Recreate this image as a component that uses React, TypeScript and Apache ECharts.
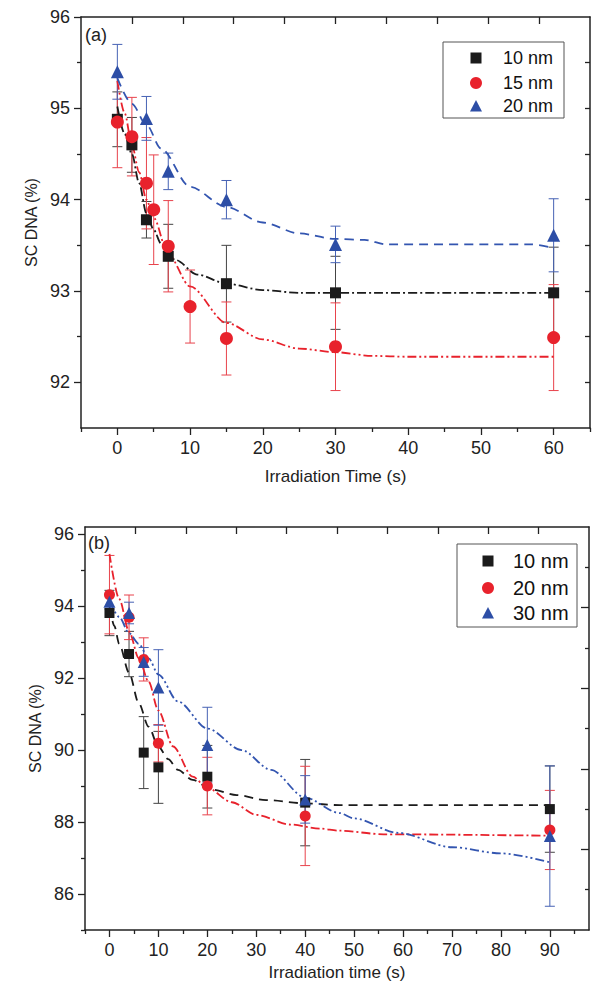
import React, { useEffect, useRef } from "react";
import * as echarts from "echarts";

const FONT = "'Liberation Sans', Arial, sans-serif";

// ---------- Panel (a) ----------
const aTitleX = "Irradiation Time (s)";
const aTitleY = "SC DNA (%)";
const aXLabels = [0, 10, 20, 30, 40, 50, 60];
const aXMinor = [-5, 5, 15, 25, 35, 45, 55, 65];
const aYLabels = [92, 93, 94, 95, 96];
const aYMinor = [92.5, 93.5, 94.5, 95.5];
const aYRight = [92, 92.5, 93, 93.5, 94, 94.5, 95, 95.5];
const aLegend = ["10 nm", "15 nm", "20 nm"];

const a10Time = [0, 2, 4, 7, 15, 30, 60];
const a10Val = [94.88, 94.6, 93.78, 93.38, 93.08, 92.98, 92.98];
const a10Err = [0.3, 0.3, 0.2, 0.35, 0.42, 0.4, 0.5];

const a15Time = [0, 2, 4, 5, 7, 10, 15, 30, 60];
const a15Val = [94.85, 94.69, 94.18, 93.89, 93.49, 92.83, 92.48, 92.39, 92.49];
const a15Err = [0.5, 0.43, 0.5, 0.6, 0.5, 0.4, 0.4, 0.48, 0.58];

const a20Time = [0, 4, 7, 15, 30, 60];
const a20Val = [95.4, 94.89, 94.31, 94.0, 93.51, 93.61];
const a20Err = [0.3, 0.24, 0.2, 0.21, 0.2, 0.4];

const a10FitT = [0, 1, 2, 3, 4, 5, 6, 8, 11, 15, 20, 25, 60];
const a10FitV = [95.02, 94.72, 94.5, 94.18, 93.85, 93.67, 93.52, 93.34, 93.18, 93.08, 93.01, 92.98, 92.98];
const a15FitT = [0, 1, 2, 3, 4, 5, 7, 10, 15, 20, 25, 30, 35, 40, 60];
const a15FitV = [95.3, 94.95, 94.6, 94.3, 94.0, 93.8, 93.4, 93.05, 92.65, 92.47, 92.37, 92.33, 92.29, 92.28, 92.28];
const a20FitT = [0, 2, 4, 6, 10, 15, 20, 25, 30, 34, 37, 57, 60];
const a20FitV = [95.33, 95.05, 94.82, 94.56, 94.14, 93.92, 93.75, 93.63, 93.57, 93.56, 93.51, 93.51, 93.47];

// ---------- Panel (b) ----------
const bTitleX = "Irradiation time (s)";
const bTitleY = "SC DNA (%)";
const bXLabels = [0, 10, 20, 30, 40, 50, 60, 70, 80, 90];
const bXMinor = [-5, 5, 15, 25, 35, 45, 55, 65, 75, 85, 95];
const bYLabels = [86, 88, 90, 92, 94, 96];
const bYMinor = [85, 87, 89, 91, 93, 95];
const bRightMajor = [2, 4, 6, 8];
const bRightMinor = [1, 3, 5, 7, 9];
const bLegend = ["10 nm", "20 nm", "30 nm"];

const b10Time = [0, 4, 7, 10, 20, 40, 90];
const b10Val = [93.81, 92.67, 89.93, 89.52, 89.26, 88.54, 88.36];
const b10Err = [0.63, 0.63, 1.0, 1.0, 0.87, 1.2, 1.2];

const b20Time = [0, 4, 7, 10, 20, 40, 90];
const b20Val = [94.32, 93.69, 92.52, 90.19, 89.0, 88.17, 87.78];
const b20Err = [1.09, 0.62, 0.6, 0.52, 0.8, 1.38, 1.1];

const b30Time = [0, 4, 7, 10, 20, 40, 90];
const b30Val = [94.12, 93.81, 92.45, 91.74, 90.14, 88.63, 87.61];
const b30Err = [0.2, 0.3, 0.4, 1.05, 1.05, 0.66, 1.95];

const b10FitT = [0, 1, 2, 4, 6, 8, 10, 12, 14, 17, 21, 26, 32, 40, 47, 90];
const b10FitV = [94.0, 93.45, 92.95, 92.15, 91.3, 90.65, 90.1, 89.75, 89.45, 89.17, 88.9, 88.75, 88.61, 88.52, 88.47, 88.47];
const b20FitT = [0, 2, 4, 6, 8, 10, 13, 17, 20, 25, 30, 37, 43, 47, 56, 90];
const b20FitV = [95.45, 94.2, 93.3, 92.55, 91.9, 91.1, 90.1, 89.26, 88.95, 88.55, 88.2, 87.93, 87.82, 87.76, 87.66, 87.62];
const b30FitT = [0, 2, 4, 6, 8, 10, 14, 20, 27, 33, 40, 47, 50, 59, 70, 80, 90];
const b30FitV = [94.15, 93.7, 93.25, 92.95, 92.55, 92.1, 91.35, 90.6, 90.0, 89.45, 88.68, 88.25, 88.1, 87.7, 87.3, 87.13, 86.88];

// ---------- styles ----------
const BLACK = "#1b1b1b";
const RED = "#e8222c";
const BLUE = "#2d4ea6";
const BLACK_BAR = "#444";
const RED_BAR = "#e8434c";
const BLUE_BAR = "#4662b4";
const AXIS = "#222";

const zip = (t: number[], v: number[]) => t.map((x, i) => [x, v[i]]);
const bars = (t: number[], v: number[], e: number[]) =>
  t.map((x, i) => [x, v[i] - e[i], v[i] + e[i]]);

function errSeries(data: number[][], color: string, xi: number, yi: number, hw: number) {
  return {
    type: "custom",
    xAxisIndex: xi,
    yAxisIndex: yi,
    data,
    encode: { x: 0, y: [1, 2] },
    z: 2,
    renderItem: (_p: any, api: any) => {
      const x = api.value(0);
      const lo = api.coord([x, api.value(1)]);
      const hi = api.coord([x, api.value(2)]);
      const style = { stroke: color, lineWidth: 1 };
      return {
        type: "group",
        children: [
          { type: "line", shape: { x1: lo[0], y1: lo[1], x2: hi[0], y2: hi[1] }, style },
          { type: "line", shape: { x1: lo[0] - hw, y1: lo[1], x2: lo[0] + hw, y2: lo[1] }, style },
          { type: "line", shape: { x1: hi[0] - hw, y1: hi[1], x2: hi[0] + hw, y2: hi[1] }, style },
        ],
      };
    },
  };
}

function fitSeries(data: number[][], color: string, dash: number[], xi: number, yi: number) {
  return {
    type: "line",
    xAxisIndex: xi,
    yAxisIndex: yi,
    data,
    symbol: "none",
    smooth: 0.3,
    smoothMonotone: "x",
    z: 3,
    lineStyle: { color, width: 1.8, type: dash },
  };
}

function markSeries(data: number[][], symbol: string, size: number, color: string, xi: number, yi: number) {
  return {
    type: "scatter",
    xAxisIndex: xi,
    yAxisIndex: yi,
    data,
    symbol,
    symbolSize: size,
    z: 4,
    itemStyle: { color, opacity: 1 },
  };
}

const tickLine = { color: AXIS, width: 1.3 };
const axisLineOn = { show: true, onZero: false, lineStyle: { color: AXIS, width: 1.5 } };
const axisLineOff = { show: false, onZero: false };
const labelStyle = { fontSize: 18, color: "#222", fontFamily: FONT };

function xMajor(grid: number, min: number, max: number, values: number[], name: string, gap: number) {
  return {
    type: "value", gridIndex: grid, position: "bottom", min, max,
    splitLine: { show: false },
    axisLine: axisLineOn,
    axisTick: { show: true, customValues: values, length: 7, lineStyle: tickLine },
    axisLabel: { show: true, customValues: values, margin: 11, ...labelStyle },
    name, nameLocation: "middle", nameGap: gap,
    nameTextStyle: { fontSize: 17, color: "#222", fontFamily: FONT },
  };
}
function xMinor(grid: number, min: number, max: number, values: number[]) {
  return {
    type: "value", gridIndex: grid, position: "bottom", min, max,
    splitLine: { show: false }, axisLine: axisLineOff,
    axisTick: { show: true, customValues: values, length: 4, lineStyle: tickLine },
    axisLabel: { show: false },
  };
}
function xTop(grid: number) {
  return {
    type: "value", gridIndex: grid, position: "top", min: 0, max: 10,
    splitLine: { show: false }, axisLine: axisLineOn,
    axisTick: { show: true, inside: true, customValues: [1, 2, 3, 4, 5, 6, 7, 8, 9], length: 7, lineStyle: tickLine },
    axisLabel: { show: false },
  };
}
function yMajor(grid: number, min: number, max: number, values: number[], name: string, gap: number) {
  return {
    type: "value", gridIndex: grid, position: "left", min, max,
    splitLine: { show: false }, axisLine: axisLineOn,
    axisTick: { show: true, customValues: values, length: 7, lineStyle: tickLine },
    axisLabel: { show: true, customValues: values, margin: 11, ...labelStyle },
    name, nameLocation: "middle", nameGap: gap, nameRotate: 90,
    nameTextStyle: { fontSize: 16, color: "#222", fontFamily: FONT },
  };
}
function yMinor(grid: number, min: number, max: number, values: number[]) {
  return {
    type: "value", gridIndex: grid, position: "left", min, max,
    splitLine: { show: false }, axisLine: axisLineOff,
    axisTick: { show: true, customValues: values, length: 4, lineStyle: tickLine },
    axisLabel: { show: false },
  };
}
function yRight(grid: number, min: number, max: number, values: number[], len: number, line: boolean) {
  return {
    type: "value", gridIndex: grid, position: "right", min, max,
    splitLine: { show: false }, axisLine: line ? axisLineOn : axisLineOff,
    axisTick: { show: true, inside: true, customValues: values, length: len, lineStyle: tickLine },
    axisLabel: { show: false },
  };
}

function legendGraphic(x: number, y: number, w: number, h: number, sx: number, tx: number, rows: number[], names: string[], fs: number, sz: number) {
  const half = sz / 2;
  const colors = [BLACK, RED, BLUE];
  const kids: any[] = [
    { type: "rect", shape: { x, y, width: w, height: h }, style: { fill: "#fff", stroke: "#555", lineWidth: 1 } },
    { type: "rect", shape: { x: sx - half, y: rows[0] - half, width: sz, height: sz }, style: { fill: colors[0] } },
    { type: "circle", shape: { cx: sx, cy: rows[1], r: half + 0.5 }, style: { fill: colors[1] } },
    {
      type: "polygon",
      shape: { points: [[sx, rows[2] - half - 0.5], [sx + half + 0.5, rows[2] + half], [sx - half - 0.5, rows[2] + half]] },
      style: { fill: colors[2] },
    },
  ];
  names.forEach((n, i) => {
    kids.push({
      type: "text", x: tx, y: rows[i],
      style: { text: n, fontSize: fs, fill: "#111", fontFamily: FONT, verticalAlign: "middle", align: "left" },
    });
  });
  return { type: "group", z: 10, children: kids };
}

const option: any = {
  animation: false,
  backgroundColor: "#fff",
  grid: [
    { left: 81, top: 17, width: 509, height: 411 },
    { left: 85, top: 527, width: 504, height: 403 },
  ],
  xAxis: [
    xMajor(0, -5, 65, aXLabels, aTitleX, 40),
    xMinor(0, -5, 65, aXMinor),
    xTop(0),
    xMajor(1, -5, 98, bXLabels, bTitleX, 34),
    xMinor(1, -5, 98, bXMinor),
    xTop(1),
  ],
  yAxis: [
    yMajor(0, 91.5, 96, aYLabels, aTitleY, 40),
    yMinor(0, 91.5, 96, aYMinor),
    yRight(0, 91.5, 96, aYRight, 5, true),
    yMajor(1, 85, 96.2, bYLabels, bTitleY, 40),
    yMinor(1, 85, 96.2, bYMinor),
    yRight(1, 0, 10, bRightMajor, 8, true),
    yRight(1, 0, 10, bRightMinor, 4, false),
  ],
  graphic: [
    { type: "text", x: 85, y: 35, style: { text: "(a)", fontSize: 18, fill: "#222", fontFamily: FONT, verticalAlign: "middle" } },
    { type: "text", x: 88, y: 543, style: { text: "(b)", fontSize: 18, fill: "#222", fontFamily: FONT, verticalAlign: "middle" } },
    legendGraphic(443, 42, 121, 76, 476, 503, [58, 83, 106], aLegend, 18, 11),
    legendGraphic(457, 544, 120, 83, 488, 513, [561, 588, 613], bLegend, 20, 11),
  ],
  series: [
    // panel (a)
    errSeries(bars(a10Time, a10Val, a10Err), BLACK_BAR, 0, 0, 5),
    errSeries(bars(a15Time, a15Val, a15Err), RED_BAR, 0, 0, 5),
    errSeries(bars(a20Time, a20Val, a20Err), BLUE_BAR, 0, 0, 5),
    fitSeries(zip(a10FitT, a10FitV), BLACK, [9, 3, 2, 3], 0, 0),
    fitSeries(zip(a15FitT, a15FitV), RED, [9, 3, 2, 3, 2, 3], 0, 0),
    fitSeries(zip(a20FitT, a20FitV), "#3355b0", [9, 6], 0, 0),
    markSeries(zip(a10Time, a10Val), "rect", 11, BLACK, 0, 0),
    markSeries(zip(a15Time, a15Val), "circle", 13, RED, 0, 0),
    markSeries(zip(a20Time, a20Val), "triangle", 13, BLUE, 0, 0),
    // panel (b)
    errSeries(bars(b10Time, b10Val, b10Err), BLACK_BAR, 3, 3, 5),
    errSeries(bars(b20Time, b20Val, b20Err), RED_BAR, 3, 3, 5),
    errSeries(bars(b30Time, b30Val, b30Err), BLUE_BAR, 3, 3, 5),
    fitSeries(zip(b10FitT, b10FitV), BLACK, [9, 6], 3, 3),
    fitSeries(zip(b20FitT, b20FitV), RED, [9, 3, 2, 3], 3, 3),
    fitSeries(zip(b30FitT, b30FitV), "#3355b0", [9, 3, 2, 3, 2, 3], 3, 3),
    markSeries(zip(b10Time, b10Val), "rect", 10, BLACK, 3, 3),
    markSeries(zip(b20Time, b20Val), "circle", 11, RED, 3, 3),
    markSeries(zip(b30Time, b30Val), "triangle", 12, BLUE, 3, 3),
  ],
};

export default function App() {
  const ref = useRef<HTMLDivElement>(null);
  useEffect(() => {
    if (!ref.current) return;
    const chart = echarts.init(ref.current, null, { renderer: "svg" });
    chart.setOption(option);
    return () => chart.dispose();
  }, []);
  return (
    <div
      ref={ref}
      style={{ position: "absolute", left: 0, top: 0, width: 602, height: 1004, background: "#fff" }}
    />
  );
}
